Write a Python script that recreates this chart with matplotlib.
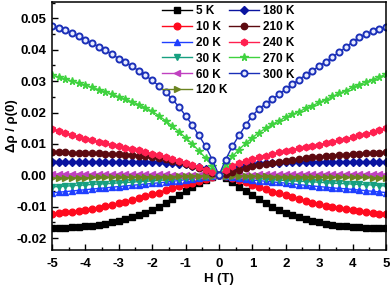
import numpy as np
import matplotlib
matplotlib.use("Agg")
import matplotlib.pyplot as plt
from matplotlib.ticker import MultipleLocator, FormatStrFormatter

plt.rcParams['font.family'] = ['Liberation Sans', 'DejaVu Sans']
plt.rcParams['font.weight'] = 'bold'
plt.rcParams['axes.unicode_minus'] = False

H = np.round(np.linspace(-5, 5, 51), 1)

mr_5K = [-0.0169,-0.0168,-0.0167,-0.0166,-0.0164,-0.0162,-0.0160,-0.0157,-0.0154,-0.0150,-0.0145,-0.0140,-0.0134,-0.0127,-0.0119,-0.0110,-0.0100,-0.0089,-0.0077,-0.0064,-0.0051,-0.0038,-0.0026,-0.0015,-0.0006,
         0.0,
         -0.0010,-0.0022,-0.0036,-0.0050,-0.0064,-0.0077,-0.0089,-0.0100,-0.0110,-0.0119,-0.0127,-0.0134,-0.0140,-0.0146,-0.0150,-0.0154,-0.0157,-0.0160,-0.0162,-0.0164,-0.0166,-0.0167,-0.0168,-0.0169,-0.0169]
mr_10K = [-0.0124,-0.0121,-0.0118,-0.0116,-0.0113,-0.0110,-0.0107,-0.0103,-0.0099,-0.0094,-0.0089,-0.0084,-0.0079,-0.0073,-0.0067,-0.0061,-0.0055,-0.0048,-0.0041,-0.0035,-0.0029,-0.0024,-0.0018,-0.0012,-0.0006,
          0.0,
          -0.0003,-0.0008,-0.0015,-0.0023,-0.0031,-0.0038,-0.0045,-0.0052,-0.0058,-0.0064,-0.0070,-0.0076,-0.0082,-0.0087,-0.0092,-0.0097,-0.0101,-0.0105,-0.0109,-0.0112,-0.0115,-0.0118,-0.0120,-0.0122,-0.0124]
mr_20K = [-0.0056,-0.0054,-0.0052,-0.0050,-0.0048,-0.0046,-0.0044,-0.0042,-0.0040,-0.0038,-0.0036,-0.0034,-0.0032,-0.0030,-0.0028,-0.0026,-0.0024,-0.0022,-0.0019,-0.0017,-0.0014,-0.0011,-0.0008,-0.0005,-0.0003,
          0.0,
          -0.0003,-0.0006,-0.0009,-0.0012,-0.0015,-0.0017,-0.0019,-0.0021,-0.0023,-0.0025,-0.0027,-0.0030,-0.0032,-0.0034,-0.0036,-0.0038,-0.0040,-0.0042,-0.0043,-0.0045,-0.0047,-0.0049,-0.0051,-0.0053,-0.0055]
mr_30K = [-0.0037,-0.0036,-0.0035,-0.0033,-0.0032,-0.0031,-0.0029,-0.0028,-0.0027,-0.0026,-0.0024,-0.0023,-0.0022,-0.0020,-0.0019,-0.0018,-0.0016,-0.0015,-0.0013,-0.0012,-0.0010,-0.0008,-0.0006,-0.0004,-0.0002,
          0.0,
          -0.0001,-0.0003,-0.0005,-0.0007,-0.0009,-0.0011,-0.0012,-0.0014,-0.0015,-0.0017,-0.0018,-0.0019,-0.0020,-0.0021,-0.0022,-0.0024,-0.0025,-0.0026,-0.0027,-0.0028,-0.0029,-0.0030,-0.0031,-0.0033,-0.0034]
mr_60K = [0.0003,0.0004,0.0003,0.0004,0.0004,0.0003,0.0004,0.0004,0.0004,0.0003,0.0004,0.0004,0.0003,0.0004,0.0003,0.0003,0.0003,0.0003,0.0002,0.0002,0.0002,0.0002,0.0001,0.0001,0.0001,
          0.0,
          0.0001,0.0001,0.0002,0.0002,0.0002,0.0003,0.0003,0.0003,0.0003,0.0004,0.0003,0.0004,0.0004,0.0004,0.0003,0.0004,0.0004,0.0004,0.0003,0.0004,0.0004,0.0003,0.0004,0.0004,0.0003]
mr_120K = [-0.0009,-0.0009,-0.0008,-0.0008,-0.0008,-0.0008,-0.0007,-0.0007,-0.0007,-0.0007,-0.0006,-0.0006,-0.0006,-0.0005,-0.0005,-0.0005,-0.0004,-0.0004,-0.0004,-0.0003,-0.0003,-0.0002,-0.0002,-0.0001,-0.0001,
           0.0,
           -0.0001,-0.0001,-0.0002,-0.0002,-0.0003,-0.0003,-0.0003,-0.0004,-0.0004,-0.0004,-0.0005,-0.0005,-0.0005,-0.0005,-0.0006,-0.0006,-0.0006,-0.0006,-0.0007,-0.0007,-0.0007,-0.0007,-0.0008,-0.0008,-0.0008]
mr_180K = [0.0041,0.0041,0.0042,0.0042,0.0042,0.0042,0.0042,0.0042,0.0042,0.0042,0.0042,0.0042,0.0042,0.0042,0.0042,0.0041,0.0041,0.0040,0.0039,0.0037,0.0035,0.0031,0.0026,0.0019,0.0010,
           0.0,
           0.0012,0.0021,0.0028,0.0033,0.0036,0.0038,0.0039,0.0040,0.0040,0.0041,0.0041,0.0041,0.0041,0.0042,0.0042,0.0042,0.0042,0.0042,0.0042,0.0042,0.0042,0.0042,0.0042,0.0042,0.0042]
mr_210K = [0.0074,0.0073,0.0073,0.0072,0.0072,0.0071,0.0071,0.0070,0.0069,0.0068,0.0067,0.0066,0.0065,0.0063,0.0061,0.0058,0.0055,0.0051,0.0047,0.0042,0.0037,0.0031,0.0024,0.0016,0.0008,
           0.0,
           0.0005,0.0010,0.0016,0.0022,0.0028,0.0032,0.0036,0.0040,0.0043,0.0046,0.0049,0.0052,0.0054,0.0057,0.0059,0.0061,0.0063,0.0065,0.0066,0.0068,0.0069,0.0070,0.0071,0.0072,0.0073]
mr_240K = [0.0148,0.0141,0.0135,0.0129,0.0123,0.0117,0.0111,0.0106,0.0102,0.0097,0.0093,0.0088,0.0083,0.0079,0.0074,0.0069,0.0064,0.0059,0.0053,0.0047,0.0040,0.0033,0.0026,0.0018,0.0010,
           0.0,
           0.0018,0.0031,0.0040,0.0047,0.0053,0.0058,0.0063,0.0068,0.0073,0.0078,0.0082,0.0086,0.0090,0.0094,0.0098,0.0102,0.0107,0.0111,0.0116,0.0121,0.0127,0.0132,0.0138,0.0144,0.0151]
mr_270K = [0.0319,0.0313,0.0307,0.0300,0.0294,0.0287,0.0280,0.0273,0.0266,0.0258,0.0250,0.0242,0.0234,0.0225,0.0215,0.0204,0.0190,0.0174,0.0157,0.0139,0.0120,0.0100,0.0078,0.0055,0.0030,
           0.0,
           0.0035,0.0060,0.0082,0.0102,0.0120,0.0136,0.0150,0.0162,0.0174,0.0185,0.0194,0.0203,0.0213,0.0222,0.0232,0.0241,0.0251,0.0261,0.0270,0.0280,0.0289,0.0297,0.0305,0.0313,0.0322]
mr_300K = [0.0475,0.0468,0.0462,0.0452,0.0443,0.0432,0.0420,0.0410,0.0398,0.0385,0.0372,0.0360,0.0347,0.0333,0.0318,0.0302,0.0285,0.0265,0.0243,0.0218,0.0190,0.0160,0.0127,0.0092,0.0050,
           0.0,
           0.0050,0.0092,0.0127,0.0160,0.0190,0.0212,0.0228,0.0243,0.0258,0.0275,0.0290,0.0305,0.0320,0.0333,0.0348,0.0362,0.0377,0.0392,0.0408,0.0425,0.0440,0.0450,0.0459,0.0466,0.0472]

labels = ['5 K', '10 K', '20 K', '30 K', '60 K', '120 K',
          '180 K', '210 K', '240 K', '270 K', '300 K']
series = [mr_5K, mr_10K, mr_20K, mr_30K, mr_60K, mr_120K,
          mr_180K, mr_210K, mr_240K, mr_270K, mr_300K]
colors = ['#000000', '#ff0a1e', '#1f3fff', '#17a080', '#c040c0', '#6b8420',
          '#0a14a0', '#5c0a10', '#ff2050', '#3fd23f', '#1a2fb8']
markers = ['s', 'o', '^', 'v', '<', '>', 'D', 'o', 'h', '*', 'o']
sizes = [4.8, 4.8, 4.6, 4.6, 4.2, 4.2, 3.8, 4.6, 4.8, 5.6, 4.4]

fig = plt.figure(figsize=(3.91, 2.88), dpi=100)
ax = fig.add_axes([0.133, 0.132, 0.854, 0.861])

for y, lab, c, m, s in zip(series, labels, colors, markers, sizes):
    if lab == '300 K':
        ax.plot(H, y, color=c, marker=m, ms=s, mfc='#e8ecff', mec=c, mew=1.4,
                lw=1.0, label=lab)
    else:
        ax.plot(H, y, color=c, marker=m, ms=s, mec=c, lw=1.0, label=lab)

ax.set_xlim(-5, 5)
ax.set_ylim(-0.0238, 0.0552)
ax.xaxis.set_major_locator(MultipleLocator(1))
ax.xaxis.set_minor_locator(MultipleLocator(0.5))
ax.yaxis.set_major_locator(MultipleLocator(0.01))
ax.yaxis.set_minor_locator(MultipleLocator(0.005))
ax.yaxis.set_major_formatter(FormatStrFormatter('%.2f'))
ax.tick_params(which='both', direction='in', top=False, right=False, width=1.0)
ax.tick_params(which='major', length=4, labelsize=9.5)
ax.tick_params(axis='x', which='major', pad=6)
ax.tick_params(axis='y', which='major', pad=4)
ax.tick_params(which='minor', length=2)
for s in ax.spines.values():
    s.set_linewidth(1.1)
for t in ax.get_xticklabels() + ax.get_yticklabels():
    t.set_fontweight('bold')

ax.set_xlabel('H (T)', fontsize=9.5, fontweight='bold', labelpad=2)
ax.set_ylabel('Δρ / ρ(0)', fontsize=9.5, fontweight='bold', labelpad=-1)

leg = ax.legend(ncol=2, frameon=False, loc='upper left',
                bbox_to_anchor=(0.325, 0.993), borderpad=0.1, borderaxespad=0,
                fontsize=8.5, labelspacing=0.33, handlelength=2.6,
                handletextpad=0.3, columnspacing=0.1, numpoints=1)
for t in leg.get_texts():
    t.set_fontweight('bold')

fig.savefig('out.png', dpi=100)
